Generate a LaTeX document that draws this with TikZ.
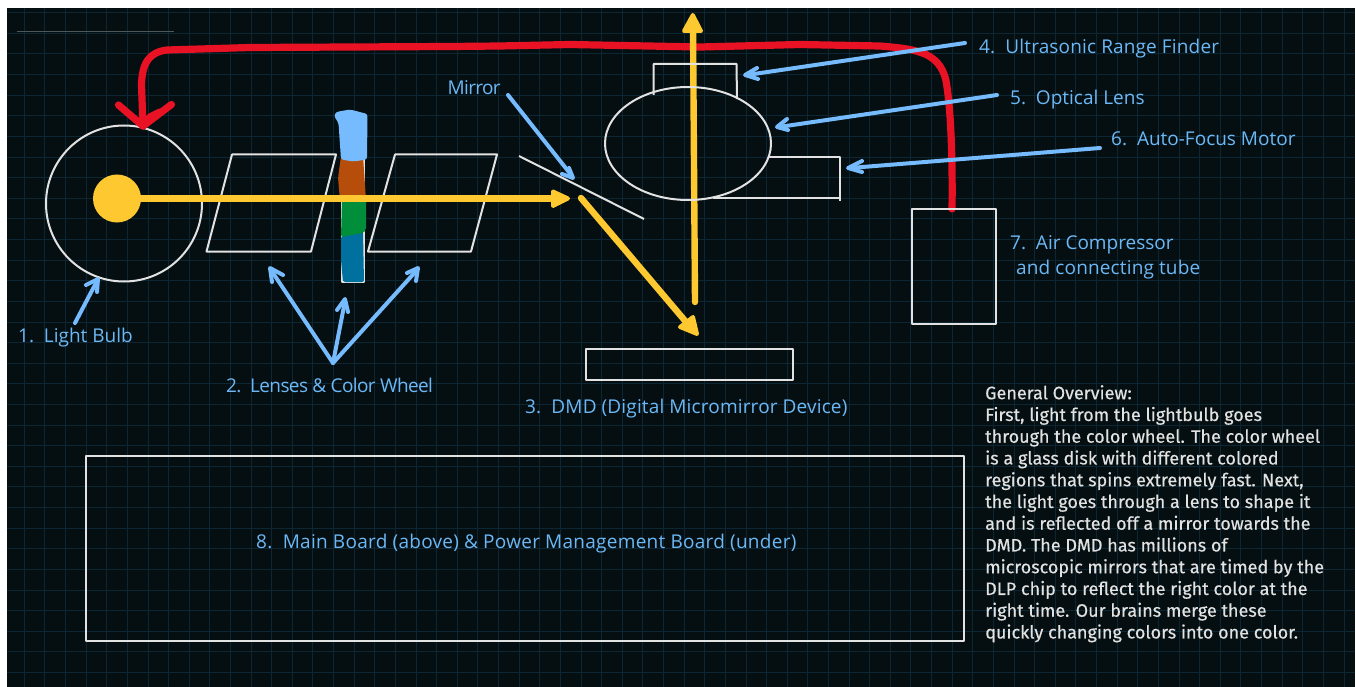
\documentclass[tikz,border=0pt]{standalone}
\usepackage{fontspec}
\usetikzlibrary{shapes.geometric}
\setmainfont{Open Sans}
\newfontfamily\bodyfont[FakeBold=0.35]{Fira Sans}
\definecolor{bgdark}{HTML}{050F11}
\definecolor{gridc}{HTML}{0D2634}
\definecolor{lbl}{HTML}{6CB8F6}
\definecolor{inkw}{HTML}{E2E2E2}
\definecolor{ray}{HTML}{FDC830}
\definecolor{redp}{HTML}{E81224}
\definecolor{wblue}{HTML}{75BBFD}
\definecolor{wbrown}{HTML}{B74D0A}
\definecolor{wgreen}{HTML}{008E3A}
\definecolor{wteal}{HTML}{00709F}
\newcommand{\lsp}[1]{\addfontfeature{LetterSpace=#1}}
\tikzset{
  x=1pt,y=-1pt,
  inkline/.style={draw=inkw,line width=2pt,line join=round},
  bluearrow/.style={draw=wblue,line width=4pt,line cap=round,line join=round},
  rayline/.style={draw=ray,line width=6.4pt,line cap=round,line join=round},
  rayhead/.style={fill=ray,draw=ray,line width=4pt,line join=round},
  redline/.style={draw=redp,line width=7.2pt,line cap=round,line join=round},
  lab/.style={text=lbl,font=\fontsize{19}{23}\selectfont,anchor=base west,inner sep=0pt},
}
\begin{document}
\begin{tikzpicture}
\useasboundingbox (0,0) rectangle (1356,687);
\fill[white] (0,0) rectangle (1356,687);
\fill[bgdark] (7,8) rectangle (1355,687);
\begin{scope}
\clip (7,8) rectangle (1355,687);
\foreach \i in {0,...,65} \draw[gridc,line width=1pt] ({24.3+20.62*\i},8) -- ({24.3+20.62*\i},687);
\foreach \i in {0,...,33} \draw[gridc,line width=1pt] (7,{12.7+20.62*\i}) -- (1355,{12.7+20.62*\i});
\end{scope}
\draw[draw=white!30!bgdark,line width=1pt] (17,32) -- (174,32);

% bulb
\node[circle,draw=inkw,line width=2pt,minimum size=156pt,inner sep=0pt] (bulb) at (124,203.5) {};
\node[circle,fill=ray,minimum size=48pt,inner sep=0pt] (core) at (117,198.5) {};

% lenses
\draw[inkline] (232,154.5) -- (336,154.5) -- (311,251.5) -- (206.5,251.5) -- cycle;
\draw[inkline] (395,154.5) -- (497,154.5) -- (471,251.5) -- (368,251.5) -- cycle;

% colour wheel
\draw[inkline] (342,150) rectangle (364,282);
\fill[wteal,rounded corners=2pt] (341,236) -- (363,232) -- (364,282) -- (343,282) -- (341,260) -- cycle;
\fill[wgreen,rounded corners=2pt] (342,199) -- (366,199) -- (366,230) -- (363,233) -- (341,237) -- cycle;
\fill[wbrown,rounded corners=3pt] (341,156) -- (363,156) -- (366,200) -- (340,200) -- (338,178) -- cycle;
\fill[wblue,rounded corners=2.5pt] (336,112) -- (350,109.5) -- (367.5,114) -- (367,159.5) -- (353,161.5) -- (341,159.5) -- (338.5,123) -- (334,116) -- cycle;

% red tube
\draw[redline] (952,209) .. controls (952.5,180) and (952,120) .. (947,87)
  .. controls (945,70) and (938,60) .. (925,54)
  .. controls (915,50) and (905,48) .. (880,46)
  -- (800,44.5) -- (700,47) -- (570,44.5) -- (500,46) -- (450,46.5) -- (250,47.5)
  -- (167,50) .. controls (150,52) and (142,62) .. (141.5,85) -- (143,126);
\draw[redline] (118.5,105) -- (143,126) -- (171.5,104.5);
\draw[redline] (143,126) -- (150,117) -- (160,112);

% rays
\draw[rayline] (core.center) -- (560,198.5);
\fill[rayhead] (568,198.5) -- (553,191.5) -- (553,206) -- cycle;
\draw[rayline] (581,198) -- (692,329);
\fill[rayhead] (697,334) -- (680,327) -- (693,317) -- cycle;
\draw[rayline] (695,302) -- (693,25);
\fill[rayhead] (692.8,15) -- (684,31) -- (701,31) -- cycle;

% mirror
\draw[inkline] (519,156) -- (644,219);

% DMD
\draw[inkline] (586,348.5) rectangle (793,380);
% main board
\draw[inkline] (86,456) rectangle (964,640.5);
% compressor
\draw[inkline] (912,208.5) rectangle (996,324);

% lens unit
\node[ellipse,draw=inkw,line width=2pt,minimum width=166pt,minimum height=113pt,inner sep=0pt] (lens) at (688,143.5) {};
\draw[inkline] (653.5,95) -- (653.5,64) -- (736.5,64) -- (737,99);
\draw[inkline] (768,157) -- (840,157) -- (840,201) (840,198) -- (713,198);

% blue arrows
\draw[bluearrow] (75,323) -- (97,281);
\draw[bluearrow] (86,285) -- (98,279) -- (97,292);
\draw[bluearrow] (333,363) -- (271,270);
\draw[bluearrow] (272,282) -- (270,268) -- (283,275);
\draw[bluearrow] (333,363) -- (345,301);
\draw[bluearrow] (337,310) -- (345,299) -- (348,312);
\draw[bluearrow] (333,363) -- (417,270);
\draw[bluearrow] (407,273) -- (418,268) -- (416,281);
\draw[bluearrow] (508,95) -- (572,176);
\draw[bluearrow] (562,174) -- (573,178) -- (569,168);
\draw[bluearrow] (965,43) -- (747,75);
\draw[bluearrow] (757,68) -- (745,75) -- (758,79);
\draw[bluearrow] (997,95) -- (779,127);
\draw[bluearrow] (787,119) -- (777,127) -- (788,130);
\draw[bluearrow] (1100,148) -- (850,168);
\draw[bluearrow] (862,161) -- (848,168) -- (862,172);

% labels
\node[lab] (l1) at (18,342) {1.\ \ Light Bulb};
\node[lab] (l2) at (226,392) {\lsp{-3.2}2.\ \ Lenses \& Color Wheel};
\node[lab] (l3) at (525,413) {\lsp{0.8}3.\ \ DMD (Digital Micromirror Device)};
\node[lab] (l4) at (979,54) {\lsp{0.8}4.\ \ Ultrasonic Range Finder};
\node[lab] (l5) at (1010,105) {5.\ \ Optical Lens};
\node[lab] (l6) at (1111,146) {6.\ \ Auto-Focus Motor};
\node[lab] (l7) at (1010,249) {7.\ \ Air Compressor};
\node[lab] (l7b) at (1016,274) {\lsp{0.8}and connecting tube};
\node[lab] (l8) at (256,548) {\lsp{1.4}8.\ \ Main Board (above) \& Power Management Board (under)};
\node[lab] (lm) at (447.5,95) {\lsp{-3.5}Mirror};
\node[anchor=north west,inner sep=0pt,text=inkw,font=\bodyfont\fontsize{18}{21.75}\selectfont,align=left] (ov) at (985,385) {General Overview:\\
First, light from the lightbulb goes\\
through the color wheel. The color wheel\\
is a glass disk with different colored\\
regions that spins extremely fast. Next,\\
the light goes through a lens to shape it\\
and is reflected off a mirror towards the\\
DMD. The DMD has millions of\\
microscopic mirrors that are timed by the\\
DLP chip to reflect the right color at the\\
right time. Our brains merge these\\
quickly changing colors into one color.};
\end{tikzpicture}
\end{document}
